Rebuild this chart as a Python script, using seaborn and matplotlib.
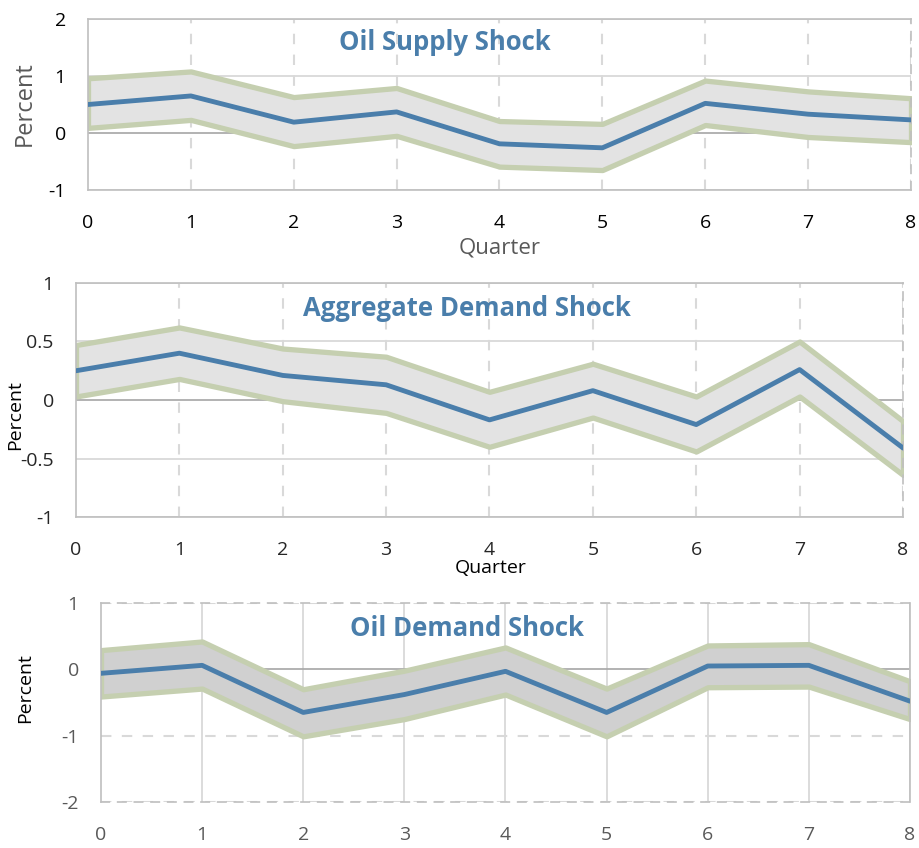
import numpy as np
import pandas as pd
import seaborn as sns
import matplotlib.pyplot as plt

# 분기 (0~8)
quarters = [0, 1, 2, 3, 4, 5, 6, 7, 8]

# Oil Supply Shock
supply_mid = [0.50, 0.65, 0.19, 0.37, -0.19, -0.26, 0.52, 0.33, 0.23]
supply_up = [0.96, 1.08, 0.63, 0.79, 0.21, 0.16, 0.92, 0.73, 0.61]
supply_lo = [0.09, 0.23, -0.23, -0.05, -0.59, -0.65, 0.14, -0.07, -0.16]

# Aggregate Demand Shock
agg_mid = [0.25, 0.40, 0.21, 0.13, -0.17, 0.08, -0.21, 0.26, -0.41]
agg_up = [0.47, 0.62, 0.44, 0.37, 0.07, 0.31, 0.03, 0.50, -0.18]
agg_lo = [0.03, 0.18, -0.01, -0.11, -0.40, -0.15, -0.44, 0.03, -0.64]

# Oil Demand Shock
dem_mid = [-0.06, 0.06, -0.65, -0.38, -0.03, -0.65, 0.05, 0.06, -0.48]
dem_up = [0.29, 0.42, -0.30, -0.02, 0.33, -0.29, 0.36, 0.38, -0.18]
dem_lo = [-0.41, -0.29, -1.01, -0.75, -0.38, -1.01, -0.27, -0.26, -0.75]

titles = ["Oil Supply Shock", "Aggregate Demand Shock", "Oil Demand Shock"]

sns.set_theme(style="white")
plt.rcParams['font.family'] = ['Open Sans', 'DejaVu Sans']

BLUE = '#4a7eab'
BAND_EDGE = '#c5cfb0'
GRID = '#d9d9d9'
FRAME = '#bfbfbf'

fig = plt.figure(figsize=(9.2, 8.48), dpi=100)

panels = [
    dict(rect=[88/920, 1-190/848, 823/920, 171/848], mid=supply_mid, up=supply_up, lo=supply_lo,
         ylim=(-1, 2), yticks=[-1, 0, 1, 2], fill='#e3e3e3', tick_color='black', hgrid='-', vgrid='--',
         ylabel_size=17, ylabel_color='#595959', ylabel_x=25/920, ylabel_y=1-104/848,
         xlabel_size=16, xlabel_color='#595959', xlabel_y=1-248/848, xlabel_x=500/920,
         title_y=1-43/848, title_x=445/920, tick_size=14),
    dict(rect=[76/920, 1-517/848, 827/920, 234/848], mid=agg_mid, up=agg_up, lo=agg_lo,
         ylim=(-1, 1), yticks=[-1, -0.5, 0, 0.5, 1], fill='#e3e3e3', tick_color='#262626', hgrid='-', vgrid='--',
         ylabel_size=14, ylabel_color='black', ylabel_x=15/920, ylabel_y=1-415/848,
         xlabel_size=14, xlabel_color='black', xlabel_y=1-568/848, xlabel_x=491/920,
         title_y=1-308/848, title_x=467/920, tick_size=14),
    dict(rect=[101/920, 1-802/848, 809/920, 199/848], mid=dem_mid, up=dem_up, lo=dem_lo,
         ylim=(-2, 1), yticks=[-2, -1, 0, 1], fill='#d0d0d0', tick_color='#595959', hgrid='--', vgrid='-',
         ylabel_size=14, ylabel_color='black', ylabel_x=25/920, ylabel_y=1-688/848,
         xlabel_size=None, xlabel_color=None, xlabel_y=None, xlabel_x=None,
         title_y=1-628/848, title_x=467/920, tick_size=14),
]

for p, title in zip(panels, titles):
    ax = fig.add_axes(p['rect'])
    df = pd.DataFrame({'quarter': quarters, 'mid': p['mid'], 'up': p['up'], 'lo': p['lo']})

    # 신뢰구간 밴드
    ax.fill_between(df['quarter'], df['lo'], df['up'], facecolor=p['fill'],
                    edgecolor=BAND_EDGE, linewidth=3.8, zorder=2)
    sns.lineplot(data=df, x='quarter', y='mid', color=BLUE, linewidth=3.5, ax=ax, zorder=3)

    ax.set_xlim(0, 8)
    ax.set_ylim(*p['ylim'])
    ax.set_xticks(quarters)
    ax.set_yticks(p['yticks'])
    ax.set_yticklabels([f"{t:g}" for t in p['yticks']])

    # 그리드
    for q in quarters[1:]:
        if p['vgrid'] == '--':
            ax.axvline(q, color=GRID, lw=1.5, ls=(0, (5, 5)), zorder=1)
        else:
            ax.axvline(q, color=GRID, lw=1.3, zorder=1)
    for t in p['yticks']:
        if t == 0:
            ax.axhline(0, color='#a6a6a6', lw=1.2, zorder=1)
        elif p['hgrid'] == '--':
            ax.axhline(t, color=GRID, lw=1.5, ls=(0, (5, 5)), zorder=1)
        else:
            ax.axhline(t, color=GRID, lw=1.3, zorder=1)

    for s in ax.spines.values():
        s.set_color(FRAME)
        s.set_linewidth(1.2)
    if p['hgrid'] == '--':
        ax.spines['top'].set_linestyle((0, (5, 5)))
        ax.spines['bottom'].set_linestyle((0, (5, 5)))
    if p['vgrid'] == '--':
        ax.spines['right'].set_linestyle((0, (5, 5)))

    ax.tick_params(axis='both', length=0, labelsize=p['tick_size'], labelcolor=p['tick_color'])
    ax.tick_params(axis='x', pad=17)
    ax.tick_params(axis='y', pad=16)
    ax.set_xlabel('')
    ax.set_ylabel('')

    fig.text(p['title_x'], p['title_y'], title, ha='center', va='center',
             fontsize=18.5, fontweight='bold', color=BLUE)
    fig.text(p['ylabel_x'], p['ylabel_y'], 'Percent', rotation=90,
             ha='center', va='center', fontsize=p['ylabel_size'], color=p['ylabel_color'])
    if p['xlabel_size']:
        fig.text(p['xlabel_x'], p['xlabel_y'], 'Quarter', ha='center', va='center',
                 fontsize=p['xlabel_size'], color=p['xlabel_color'])

plt.savefig('out.png', dpi=100)
